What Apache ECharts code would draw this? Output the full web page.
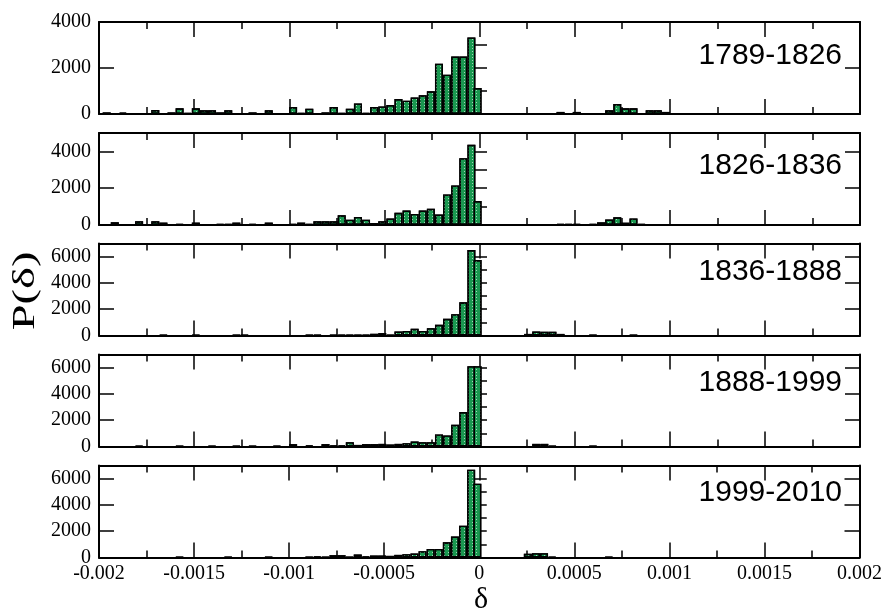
<!DOCTYPE html>
<html><head><meta charset="utf-8">
<script src="https://cdn.jsdelivr.net/npm/echarts@6/dist/echarts.min.js"></script>
<style>html,body{margin:0;padding:0;background:#fff}#c{width:885px;height:612px}</style>
</head><body><div id="c"></div>
<script>
// ---- data ----
const periods = ['1789-1826', '1826-1836', '1836-1888', '1888-1999', '1999-2010'];

// bin centres on the negative side (nearest to zero first)
const negCenters = [
  -0.0000426, -0.0000852, -0.0001278, -0.0001704, -0.000213, -0.0002556, -0.0002982, -0.0003408, -0.0003834, -0.000426,
  -0.0004686, -0.0005112, -0.0005538, -0.0005964, -0.000639, -0.0006816, -0.0007242, -0.0007668, -0.0008094, -0.000852,
  -0.0008946, -0.0009372, -0.0009798, -0.0010224, -0.001065, -0.0011076, -0.0011502, -0.0011928, -0.0012354, -0.001278,
  -0.0013206, -0.0013632, -0.0014058, -0.0014484, -0.001491, -0.0015336, -0.0015762, -0.0016188, -0.0016614, -0.001704,
  -0.0017466, -0.0017892, -0.0018318, -0.0018744, -0.001917, -0.0019596
];
// bin centres on the positive side
const posCenters = [
  0.0000426, 0.0000852, 0.0001278, 0.0001704, 0.000213, 0.0002556, 0.0002982, 0.0003408, 0.0003834, 0.000426,
  0.0004686, 0.0005112, 0.0005538, 0.0005964, 0.000639, 0.0006816, 0.0007242, 0.0007668, 0.0008094, 0.000852,
  0.0008946, 0.0009372, 0.0009798
];
const nearZeroCenter = -0.00001;

const neg1789 = [3330, 2500, 2500, 1710, 2190, 985, 810, 720, 580, 650,
  390, 330, 300, 40, 460, 230, 40, 300, 70, 0,
  230, 40, 300, 0, 0, 160, 0, 70, 0, 0,
  160, 70, 160, 160, 250, 40, 250, 70, 0, 170,
  0, 0, 0, 60, 0, 70];
const pos1789 = [0, 0, 0, 0, 0, 0, 0, 0, 0, 90, 0, 90, 0, 0, 0, 160, 435, 250, 250, 0, 160, 160, 90];

const neg1826 = [4360, 3630, 2150, 1660, 570, 880, 785, 600, 785, 660,
  350, 200, 110, 290, 440, 290, 530, 200, 200, 200,
  70, 130, 70, 0, 0, 130, 0, 70, 0, 130,
  50, 50, 0, 0, 130, 0, 50, 0, 130, 200,
  0, 200, 0, 0, 150, 0];
const pos1826 = [0, 0, 0, 0, 0, 0, 0, 0, 0, 50, 50, 50, 0, 50, 145, 300, 415, 125, 360, 55, 0, 0, 0];

const neg1836 = [6500, 2530, 1620, 1270, 810, 560, 350, 510, 350, 300,
  60, 180, 130, 60, 40, 60, 60, 40, 0, 50,
  50, 0, 0, 0, 0, 0, 0, 0, 40, 40,
  0, 0, 0, 0, 40, 0, 0, 0, 40, 0,
  0, 0, 0, 0, 0, 0];
const pos1836 = [0, 0, 0, 0, 0, 120, 300, 280, 280, 120, 0, 0, 0, 40, 0, 0, 0, 0, 30, 0, 0, 0, 0];

const neg1888 = [6110, 2620, 1650, 840, 920, 330, 330, 380, 250, 200,
  150, 200, 180, 180, 120, 330, 100, 80, 180, 0,
  80, 0, 180, 0, 60, 0, 0, 50, 0, 50,
  0, 0, 50, 0, 0, 0, 40, 0, 0, 0,
  0, 60, 0, 0, 0, 0];
const pos1888 = [0, 0, 0, 0, 0, 0, 200, 200, 60, 0, 0, 0, 0, 40, 0, 0, 0, 0, 0, 0, 0, 0, 0];

const neg1999 = [6680, 2420, 1590, 1160, 655, 655, 480, 300, 250, 200,
  125, 150, 150, 75, 225, 50, 175, 175, 50, 75,
  40, 0, 0, 0, 0, 40, 0, 0, 0, 0,
  40, 0, 0, 0, 0, 0, 40, 0, 0, 0,
  0, 0, 0, 0, 0, 0];
const pos1999 = [0, 0, 0, 0, 0, 280, 330, 330, 60, 0, 0, 0, 0, 0, 0, 40, 0, 0, 0, 0, 0, 0, 0];

const nearZero = [1130, 1300, 5740, 6110, 5620];
const yMax = [4000, 5000, 7000, 7000, 7000];
const xTickLabels = ['-0.002', '-0.0015', '-0.001', '-0.0005', '0', '0.0005', '0.001', '0.0015', '0.002'];

// ---- chart ----
const negSets = [neg1789, neg1826, neg1836, neg1888, neg1999];
const posSets = [pos1789, pos1826, pos1836, pos1888, pos1999];

const chart = echarts.init(document.getElementById('c'), null, { renderer: 'canvas' });
const tops = [22, 133, 243.5, 354.5, 465.5];
const labelY = [56, 166, 272, 383, 493];
const black = '#000';
const serif = '"Liberation Serif", "Times New Roman", serif';
const sans = '"Liberation Sans", Arial, sans-serif';

const grid = [], xAxis = [], yAxis = [], series = [], graphic = [];

periods.forEach((p, i) => {
  grid.push({ left: 99, width: 761, top: tops[i], height: 92, containLabel: false });
  ['bottom', 'top'].forEach(pos => {
    xAxis.push({
      type: 'value', gridIndex: i, position: pos,
      min: -0.002, max: 0.002, interval: 0.0005,
      axisLine: { show: true, onZero: false, lineStyle: { color: black, width: 2 } },
      axisTick: { show: true, inside: true, length: 15, lineStyle: { color: black, width: 1.5 } },
      minorTick: { show: true, splitNumber: 2, length: 7, lineStyle: { color: black, width: 1.5 } },
      axisLabel: {
        show: pos === 'bottom' && i === periods.length - 1,
        showMinLabel: true, showMaxLabel: true,
        fontFamily: serif, fontSize: 20, color: black, margin: 6,
        formatter: (v, idx) => xTickLabels[idx]
      },
      splitLine: { show: false }
    });
  });
  ['left', 'right'].forEach(pos => {
    // major ticks
    yAxis.push({
      type: 'value', gridIndex: i, position: pos,
      min: 0, max: yMax[i], interval: 2000,
      axisLine: { show: true, onZero: false, lineStyle: { color: black, width: 2 } },
      axisTick: { show: true, inside: true, length: 15, lineStyle: { color: black, width: 1.5 } },
      axisLabel: {
        show: pos === 'left', showMinLabel: true, showMaxLabel: true,
        fontFamily: serif, fontSize: 20, color: black, margin: 8,
        formatter: v => (v % 2000 === 0 ? String(v) : '')
      },
      splitLine: { show: false }
    });
    // minor ticks
    yAxis.push({
      type: 'value', gridIndex: i, position: pos,
      min: 0, max: yMax[i], interval: 1000,
      axisLine: { show: false },
      axisTick: { show: true, inside: true, length: 7.5, lineStyle: { color: black, width: 1.5 } },
      axisLabel: { show: false },
      splitLine: { show: false }
    });
  });

  const data = [];
  negSets[i].forEach((h, k) => { if (h > 0) data.push([negCenters[k], h]); });
  data.push([nearZeroCenter, nearZero[i]]);
  posSets[i].forEach((h, k) => { if (h > 0) data.push([posCenters[k], h]); });

  series.push({
    type: 'bar', name: p, xAxisIndex: 2 * i, yAxisIndex: 4 * i,
    data: data, barWidth: 8, silent: true, animation: false,
    itemStyle: {
      color: '#1a9850', borderColor: black, borderWidth: 1.4,
      decal: { symbol: 'rect', symbolSize: 1, dashArrayX: [1, 3], dashArrayY: [1, 2], color: 'rgba(255,255,255,0.6)' }
    }
  });

  graphic.push({
    type: 'text', x: 842, y: labelY[i], silent: true,
    style: { text: p, font: '30px ' + sans, fill: black, align: 'right', verticalAlign: 'middle', textAlign: 'right', textVerticalAlign: 'middle' }
  });
});

graphic.push({
  type: 'text', x: 26, y: 291, rotation: Math.PI / 2, scaleX: 1.5, silent: true,
  style: { text: 'P(δ)', font: '31px ' + serif, fill: black, align: 'center', verticalAlign: 'middle', textAlign: 'center', textVerticalAlign: 'middle' }
});
graphic.push({
  type: 'text', x: 481, y: 600, silent: true,
  style: { text: 'δ', font: '30px ' + serif, fill: black, align: 'center', verticalAlign: 'middle', textAlign: 'center', textVerticalAlign: 'middle' }
});

chart.setOption({
  backgroundColor: '#fff',
  animation: false,
  grid, xAxis, yAxis, series, graphic
});
</script>
</body></html>
